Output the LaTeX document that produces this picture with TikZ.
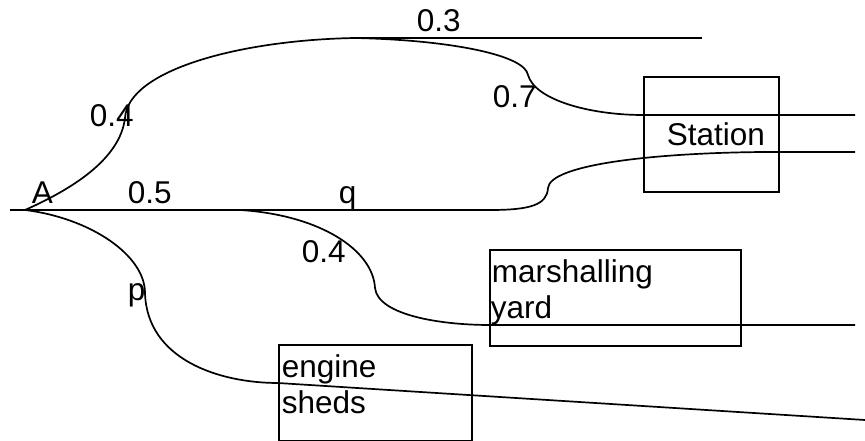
\documentclass[tikz,border=0pt]{standalone}
\usepackage{fontspec}
\setmainfont{Liberation Sans}
\begin{document}
\begin{tikzpicture}[x=1pt,y=-1pt,line width=1.7pt,
  lbl/.style={anchor=base west,inner sep=0pt,font=\fontsize{31.5}{36}\selectfont},
  boxnode/.style={draw,line width=1.7pt,anchor=north west,inner sep=0pt}]
\useasboundingbox (0,0) rectangle (865,441);
% boxes
\node[boxnode,minimum width=135pt,minimum height=115pt] (station) at (643,76) {};
\node[boxnode,minimum width=251pt,minimum height=96pt] (yardbox) at (489,249) {};
\node[boxnode,minimum width=193pt,minimum height=96pt] (shedbox) at (278,344) {};
% named points
\coordinate (start) at (10,210);
\coordinate (A) at (25,210);
\coordinate (up1) at (125,118);
\coordinate (top) at (355,38);
\coordinate (topend) at (702,38);
\coordinate (s1) at (528,75);
\coordinate (s2) at (643,115);
\coordinate (s2end) at (855,115);
\coordinate (m1) at (490,210);
\coordinate (m2) at (548,188);
\coordinate (m3) at (763,152);
\coordinate (m3end) at (855,152);
\coordinate (y0) at (240,210);
\coordinate (y1) at (375,288);
\coordinate (y2) at (490,325);
\coordinate (y2end) at (855,325);
\coordinate (p1) at (145,293);
\coordinate (p2) at (278,383);
\coordinate (p2end) at (865,420);
% connectors
\draw (start) -- (m1) .. controls (530,210) and (547,205) .. (m2)
      .. controls (550,165) and (650,153) .. (m3) -- (m3end);
\draw (A) .. controls (70,190) and (120,160) .. (up1)
      .. controls (128,70) and (240,40) .. (top);
\draw (top) -- (topend);
\draw (top) .. controls (450,40) and (525,55) .. (s1)
      .. controls (535,100) and (590,115) .. (s2) -- (s2end);
\draw (y0) .. controls (320,215) and (373,250) .. (y1)
      .. controls (378,315) and (440,325) .. (y2) -- (y2end);
\draw (A) .. controls (90,218) and (145,255) .. (p1)
      .. controls (147,360) and (220,383) .. (p2) -- (p2end);
% labels
\node[lbl] (l03) at (416,32) {0.3};
\node[lbl] (l04a) at (89,127) {0.4};
\node[lbl] (lA) at (31,203) {A};
\node[lbl] (l05) at (127,203) {0.5};
\node[lbl] (lq) at (338,203) {q};
\node[lbl] (l07) at (492,108) {0.7};
\node[lbl] (l04b) at (301,262) {0.4};
\node[lbl] (lp) at (127,300) {p};
\node[lbl] (lstation) at (666,146) {Station};
\node[lbl] (lmarsh) at (491,282) {marshalling};
\node[lbl] (lyard) at (490,318) {yard};
\node[lbl] (lengine) at (281,377) {engine};
\node[lbl] (lsheds) at (281,413) {sheds};
\end{tikzpicture}
\end{document}
